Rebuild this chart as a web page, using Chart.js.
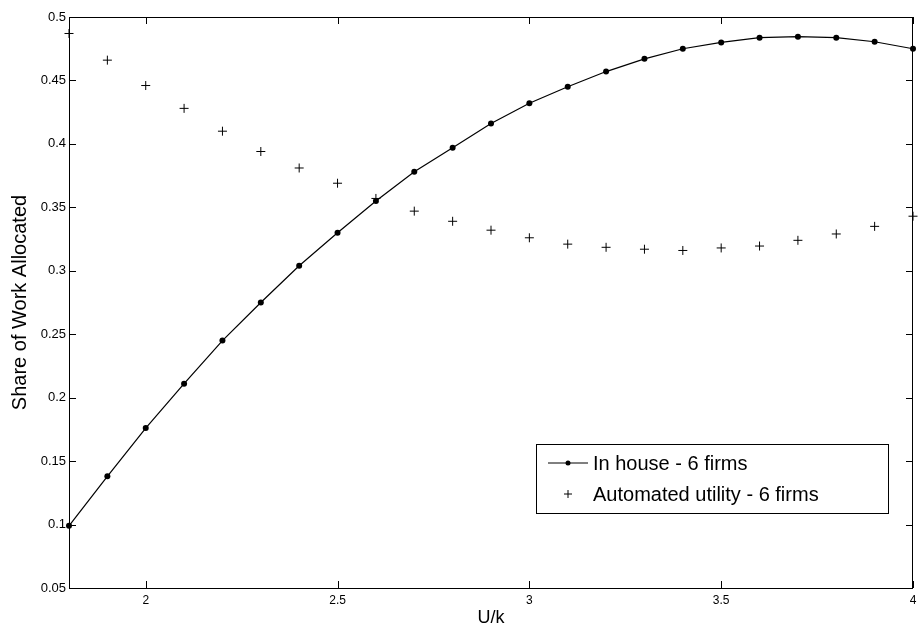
<!DOCTYPE html>
<html>
<head>
<meta charset="utf-8">
<script src="https://cdn.jsdelivr.net/npm/chart.js@4/dist/chart.umd.min.js"></script>
<style>
  html, body { margin: 0; padding: 0; background: #fff; }
  #wrap { width: 922px; height: 631px; }
</style>
</head>
<body>
<div id="wrap"><canvas id="c" width="922" height="631"></canvas></div>
<script>
// U/k values
const uk = [1.8, 1.9, 2.0, 2.1, 2.2, 2.3, 2.4, 2.5, 2.6, 2.7, 2.8, 2.9, 3.0,
            3.1, 3.2, 3.3, 3.4, 3.5, 3.6, 3.7, 3.8, 3.9, 4.0];
const inHouse = [0.099, 0.138, 0.176, 0.211, 0.245, 0.275, 0.304, 0.330, 0.355, 0.378, 0.397, 0.416, 0.432,
                 0.445, 0.457, 0.467, 0.475, 0.480, 0.4837, 0.4845, 0.4837, 0.4805, 0.475];
const automated = [0.487, 0.466, 0.446, 0.428, 0.410, 0.394, 0.381, 0.369, 0.357, 0.347, 0.339, 0.332, 0.326,
                   0.321, 0.3185, 0.317, 0.316, 0.318, 0.3195, 0.324, 0.329, 0.335, 0.343];
const xTicks = [2, 2.5, 3, 3.5, 4];
const yTicks = [0.05, 0.1, 0.15, 0.2, 0.25, 0.3, 0.35, 0.4, 0.45, 0.5];

const FONT = '"Liberation Sans", Arial, sans-serif';

function pts(ys) {
    return uk.map((x, i) => ({ x: x, y: ys[i] }));
}

// box round the plot, inward ticks on all sides, and the legend
const matlabAxes = {
    id: 'matlabAxes',
    beforeDatasetsDraw(chart) {
        const ctx = chart.ctx;
        const a = chart.chartArea;
        const xs = chart.scales.x, ys = chart.scales.y;
        ctx.save();
        ctx.strokeStyle = '#000';
        ctx.lineWidth = 1;
        ctx.strokeRect(a.left + 0.5, a.top + 0.5, a.right - a.left - 1, a.bottom - a.top);
        ctx.beginPath();
        xTicks.forEach(v => {
            const px = Math.round(xs.getPixelForValue(v)) + 0.5;
            ctx.moveTo(px, a.bottom); ctx.lineTo(px, a.bottom - 7);
            ctx.moveTo(px, a.top); ctx.lineTo(px, a.top + 7);
        });
        yTicks.forEach(v => {
            const py = Math.round(ys.getPixelForValue(v)) + 0.5;
            ctx.moveTo(a.left, py); ctx.lineTo(a.left + 7, py);
            ctx.moveTo(a.right, py); ctx.lineTo(a.right - 7, py);
        });
        ctx.stroke();
        ctx.restore();
    },
    afterDatasetsDraw(chart) {
        const ctx = chart.ctx;
        ctx.save();
        ctx.strokeStyle = '#000';
        ctx.lineWidth = 1;
        // legend
        const lx = 536, ly = 444, lw = 352, lh = 69;
        ctx.fillStyle = '#fff';
        ctx.fillRect(lx, ly, lw, lh);
        ctx.strokeRect(lx + 0.5, ly + 0.5, lw, lh);
        ctx.font = '20px ' + FONT;
        ctx.fillStyle = '#000';
        ctx.textBaseline = 'middle';
        const ds = chart.data.datasets;
        const rows = [ly + 19, ly + 50];
        // row 1: line with dot
        ctx.beginPath();
        ctx.moveTo(548, rows[0]); ctx.lineTo(588, rows[0]);
        ctx.stroke();
        ctx.beginPath();
        ctx.arc(568, rows[0], 2.5, 0, Math.PI * 2);
        ctx.fill();
        ctx.fillText(ds[0].label, 593, rows[0] + 1);
        // row 2: plus
        ctx.beginPath();
        ctx.moveTo(564, rows[1]); ctx.lineTo(572, rows[1]);
        ctx.moveTo(568, rows[1] - 4); ctx.lineTo(568, rows[1] + 4);
        ctx.stroke();
        ctx.fillText(ds[1].label, 593, rows[1] + 1);
        ctx.restore();
    }
};

new Chart(document.getElementById('c'), {
    type: 'scatter',
    data: {
        datasets: [
            {
                label: 'In house - 6 firms',
                data: pts(inHouse),
                showLine: true,
                clip: false,
                borderColor: '#000',
                backgroundColor: '#000',
                borderWidth: 1.2,
                pointStyle: 'circle',
                pointRadius: 3,
                pointBorderWidth: 0,
                tension: 0
            },
            {
                label: 'Automated utility - 6 firms',
                data: pts(automated),
                showLine: false,
                clip: false,
                borderColor: '#000',
                backgroundColor: '#000',
                pointStyle: 'cross',
                pointRadius: 4.5,
                pointBorderWidth: 1
            }
        ]
    },
    options: {
        responsive: false,
        animation: false,
        layout: { padding: { left: 0, right: 9, top: 17, bottom: 0 } },
        plugins: {
            legend: { display: false },
            tooltip: { enabled: false }
        },
        scales: {
            x: {
                type: 'linear',
                min: 1.8,
                max: 4,
                afterBuildTicks: s => { s.ticks = xTicks.map(v => ({ value: v })); },
                afterFit: s => { s.height = 43; },
                grid: { display: false, drawTicks: false },
                border: { display: false },
                ticks: {
                    color: '#000',
                    font: { family: FONT, size: 12 },
                    padding: 5,
                    maxRotation: 0,
                    callback: v => String(v)
                },
                title: {
                    display: true,
                    text: 'U/k',
                    color: '#000',
                    font: { family: FONT, size: 18 },
                    padding: { top: 0, bottom: 2 }
                }
            },
            y: {
                type: 'linear',
                min: 0.05,
                max: 0.5,
                afterBuildTicks: s => { s.ticks = yTicks.map(v => ({ value: v })); },
                afterFit: s => { s.width = 69; },
                grid: { display: false, drawTicks: false },
                border: { display: false },
                ticks: {
                    color: '#000',
                    font: { family: FONT, size: 13 },
                    padding: 3,
                    callback: v => String(v)
                },
                title: {
                    display: true,
                    text: 'Share of Work Allocated',
                    color: '#000',
                    font: { family: FONT, size: 20 },
                    padding: { top: 8, bottom: 0 }
                }
            }
        }
    },
    plugins: [matlabAxes]
});
</script>
</body>
</html>
